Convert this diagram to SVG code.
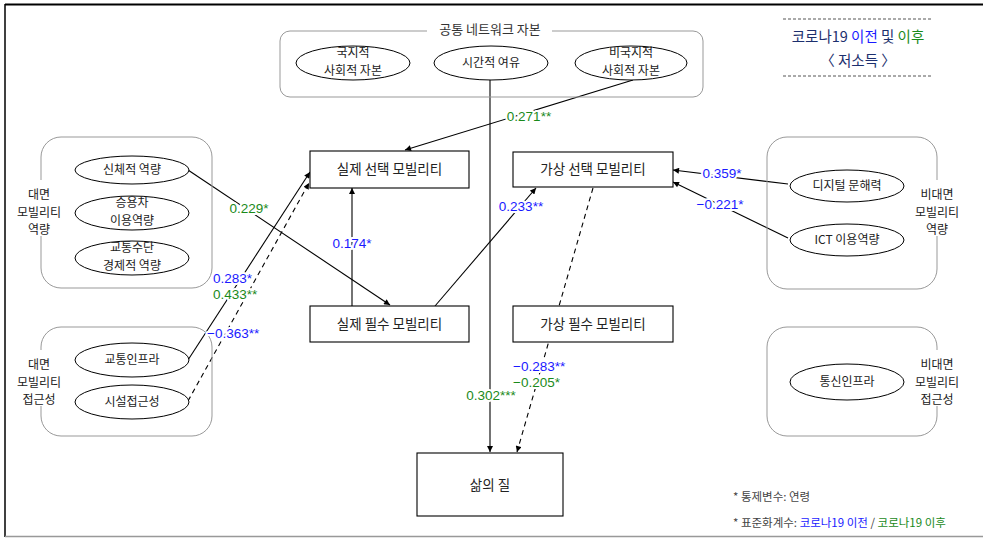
<svg xmlns="http://www.w3.org/2000/svg" width="983" height="538" viewBox="0 0 983 538">
<defs>
<marker id="arr" viewBox="0 0 10 10" refX="10" refY="5" markerWidth="7" markerHeight="6" markerUnits="userSpaceOnUse" orient="auto">
<path d="M0,0 L10,5 L0,10 z" fill="#000"/>
</marker>
<style>
.kr{font-family:"Noto Sans CJK KR","Noto Sans",sans-serif;fill:#222;text-anchor:middle}
.ell{font-size:12px}
.box{font-size:13.5px}
.grp{font-size:12px}
.num{font-family:"Liberation Sans",Arial,sans-serif;font-size:13.5px;paint-order:stroke;stroke:#fff;stroke-width:4px;stroke-linejoin:round}
.b{fill:#1a1aff}
.g{fill:#1a8a1a}
.line{stroke:#000;stroke-width:1.1;fill:none}
.dash{stroke:#000;stroke-width:1.1;fill:none;stroke-dasharray:5 4}
.node{fill:#fff;stroke:#000;stroke-width:1.1}
.oval{fill:#fff;stroke:#000;stroke-width:1}
.group{fill:none;stroke:#999;stroke-width:1}
</style>
</defs>
<rect width="983" height="538" fill="#fff"/>
<!-- frame -->
<line x1="5" y1="4.5" x2="983" y2="4.5" stroke="#000" stroke-width="2"/>
<line x1="5" y1="4" x2="5" y2="537" stroke="#000" stroke-width="1.5"/>
<line x1="5" y1="536.5" x2="983" y2="536.5" stroke="#999" stroke-width="1.5"/>

<!-- legend -->
<g id="legend">
<line x1="783" y1="19" x2="932" y2="19" stroke="#555" stroke-width="1" stroke-dasharray="3 2"/>
<line x1="783" y1="76" x2="932" y2="76" stroke="#555" stroke-width="1" stroke-dasharray="3 2"/>
<text x="858" y="42" class="kr" style="font-size:14.5px"><tspan fill="#1c2f6e">코로나19 </tspan><tspan fill="#1a1aff">이전</tspan><tspan fill="#1c2f6e"> 및 </tspan><tspan fill="#1a8a1a">이후</tspan></text>
<text x="858" y="66" class="kr" style="font-size:14.5px;fill:#1c2f6e">〈 저소득 〉</text>
</g>

<!-- connectors -->
<g id="connectors">
<line class="line" x1="490" y1="80" x2="490" y2="452" marker-end="url(#arr)"/>
<line class="line" x1="633" y1="80" x2="405" y2="150" marker-end="url(#arr)"/>
<line class="line" x1="188" y1="170" x2="390" y2="305" marker-end="url(#arr)"/>
<line class="line" x1="352" y1="306" x2="352" y2="188" marker-end="url(#arr)"/>
<line class="line" x1="435" y1="306" x2="536" y2="188" marker-end="url(#arr)"/>
<line class="line" x1="188" y1="360" x2="310" y2="172" marker-end="url(#arr)"/>
<line class="dash" x1="188" y1="401" x2="309" y2="183" marker-end="url(#arr)"/>
<line class="line" x1="788" y1="184" x2="673" y2="170" marker-end="url(#arr)"/>
<line class="line" x1="788" y1="238" x2="673" y2="182" marker-end="url(#arr)"/>
<line class="dash" x1="593" y1="188" x2="517" y2="452" marker-end="url(#arr)"/>
</g>

<!-- common network group -->
<g id="common-network">
<rect class="group" x="280" y="31" width="423" height="66" rx="10"/>
<rect x="427" y="24" width="125" height="12" fill="#fff"/>
<text x="490" y="34" class="kr" style="font-size:13px;fill:#333">공통 네트워크 자본</text>
</g>
<g id="local-social">
<ellipse class="oval" cx="353" cy="63" rx="57" ry="17"/>
<text x="353" y="57" class="kr ell">국지적</text>
<text x="353" y="75" class="kr ell">사회적 자본</text>
</g>
<g id="time">
<ellipse class="oval" cx="491" cy="63" rx="57" ry="17"/>
<text x="491" y="67" class="kr ell">시간적 여유</text>
</g>
<g id="nonlocal-social">
<ellipse class="oval" cx="631" cy="63" rx="56" ry="17"/>
<text x="631" y="57" class="kr ell">비국지적</text>
<text x="631" y="75" class="kr ell">사회적 자본</text>
</g>

<!-- face-to-face capability -->
<g id="f2f-capability">
<rect class="group" x="41" y="137" width="171" height="151" rx="20"/>
<rect x="22" y="180" width="36" height="56" fill="#fff"/>
<text x="39" y="199" class="kr grp">대면</text>
<text x="39" y="216.5" class="kr grp">모빌리티</text>
<text x="39" y="234" class="kr grp">역량</text>
</g>
<g id="physical">
<ellipse class="oval" cx="132" cy="170" rx="57" ry="14"/>
<text x="132" y="174" class="kr ell">신체적 역량</text>
</g>
<g id="car">
<ellipse class="oval" cx="132" cy="213" rx="57" ry="17"/>
<text x="132" y="207" class="kr ell">승용차</text>
<text x="132" y="225" class="kr ell">이용역량</text>
</g>
<g id="economic">
<ellipse class="oval" cx="132" cy="258" rx="57" ry="17"/>
<text x="132" y="252" class="kr ell">교통수단</text>
<text x="132" y="270" class="kr ell">경제적 역량</text>
</g>

<!-- face-to-face accessibility -->
<g id="f2f-access">
<rect class="group" x="41" y="327" width="171" height="109" rx="20"/>
<rect x="22" y="350" width="36" height="56" fill="#fff"/>
<text x="39" y="369" class="kr grp">대면</text>
<text x="39" y="386.5" class="kr grp">모빌리티</text>
<text x="39" y="404" class="kr grp">접근성</text>
</g>
<g id="transport-infra">
<ellipse class="oval" cx="132" cy="360" rx="57" ry="17"/>
<text x="132" y="364" class="kr ell">교통인프라</text>
</g>
<g id="facility">
<ellipse class="oval" cx="132" cy="402" rx="57" ry="17"/>
<text x="132" y="406" class="kr ell">시설접근성</text>
</g>

<!-- non-face-to-face capability -->
<g id="nf2f-capability">
<rect class="group" x="767" y="137" width="170" height="152" rx="20"/>
<rect x="913" y="180" width="48" height="56" fill="#fff"/>
<text x="937" y="199" class="kr grp">비대면</text>
<text x="937" y="216.5" class="kr grp">모빌리티</text>
<text x="937" y="234" class="kr grp">역량</text>
</g>
<g id="digital">
<ellipse class="oval" cx="847" cy="186" rx="57" ry="16"/>
<text x="847" y="190" class="kr ell">디지털 문해력</text>
</g>
<g id="ict">
<ellipse class="oval" cx="847" cy="240" rx="57" ry="16"/>
<text x="847" y="244" class="kr ell">ICT 이용역량</text>
</g>

<!-- non-face-to-face accessibility -->
<g id="nf2f-access">
<rect class="group" x="767" y="327" width="170" height="109" rx="20"/>
<rect x="913" y="350" width="48" height="56" fill="#fff"/>
<text x="937" y="369" class="kr grp">비대면</text>
<text x="937" y="386.5" class="kr grp">모빌리티</text>
<text x="937" y="404" class="kr grp">접근성</text>
</g>
<g id="telecom">
<ellipse class="oval" cx="847" cy="382" rx="57" ry="18"/>
<text x="847" y="386" class="kr ell">통신인프라</text>
</g>

<!-- boxes -->
<g id="real-choice">
<rect class="node" x="310" y="151" width="159" height="37"/>
<text x="389.5" y="174" class="kr box">실제 선택 모빌리티</text>
</g>
<g id="real-essential">
<rect class="node" x="310" y="306" width="159" height="36"/>
<text x="389.5" y="329" class="kr box">실제 필수 모빌리티</text>
</g>
<g id="virtual-choice">
<rect class="node" x="513" y="152" width="160" height="35"/>
<text x="593" y="174" class="kr box">가상 선택 모빌리티</text>
</g>
<g id="virtual-essential">
<rect class="node" x="513" y="306" width="160" height="36"/>
<text x="593" y="329" class="kr box">가상 필수 모빌리티</text>
</g>
<g id="quality-of-life">
<rect class="node" x="417" y="453" width="146" height="63"/>
<text x="490" y="490" class="kr box">삶의 질</text>
</g>

<!-- coefficient labels -->
<g id="labels">
<text x="529" y="121" class="num g" text-anchor="middle">0.271**</text>
<text x="249" y="213" class="num g" text-anchor="middle">0.229*</text>
<text x="352" y="248" class="num b" text-anchor="middle">0.174*</text>
<text x="521" y="211" class="num b" text-anchor="middle">0.233**</text>
<text x="722" y="178" class="num b" text-anchor="middle">0.359*</text>
<text x="720" y="209" class="num b" text-anchor="middle">−0.221*</text>
<text x="213" y="283" class="num b">0.283*</text>
<text x="213" y="299" class="num g">0.433**</text>
<text x="207" y="338" class="num b">−0.363**</text>
<text x="513" y="371" class="num b">−0.283**</text>
<text x="513" y="387" class="num g">−0.205*</text>
<text x="491" y="400" class="num g" text-anchor="middle">0.302***</text>
</g>

<!-- footnotes -->
<g id="footnotes">
<text x="733" y="501" style="font-family:'Noto Sans CJK KR',sans-serif;font-size:11.5px;fill:#444">* 통제변수: 연령</text>
<text x="733" y="527" style="font-family:'Noto Sans CJK KR',sans-serif;font-size:11.5px;fill:#444">* 표준화계수: <tspan fill="#1a1aff">코로나19 이전</tspan> / <tspan fill="#1a8a1a">코로나19 이후</tspan></text>
</g>
</svg>
